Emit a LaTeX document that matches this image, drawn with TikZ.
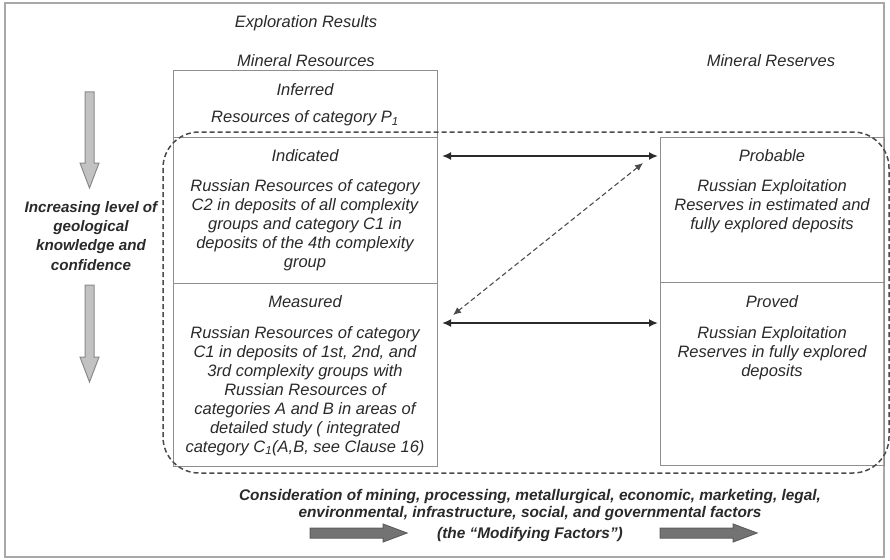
\documentclass[tikz,border=0pt]{standalone}
\usepackage{fontspec}
\setmainfont{Liberation Sans}
\usetikzlibrary{arrows.meta}
\definecolor{txt}{HTML}{2A2A2A}
\definecolor{boxc}{HTML}{8E8E8E}
\definecolor{framec}{HTML}{A8A8A8}
\definecolor{dashc}{HTML}{4A4A4A}
\definecolor{lightfill}{HTML}{C2C2C2}
\definecolor{lightdraw}{HTML}{8A8A8A}
\definecolor{darkfill}{HTML}{737373}
\definecolor{darkdraw}{HTML}{5E5E5E}
\begin{document}
\begin{tikzpicture}[x=1pt,y=-1pt,
  cell/.style={draw=boxc, line width=1.2pt, inner sep=0pt, anchor=north west},
  regtxt/.style={font=\fontsize{16.5}{19}\selectfont\itshape, text=txt, inner sep=0pt, align=center},
  boldtxt/.style={font=\fontsize{15.2}{19.3}\selectfont\bfseries\itshape, text=txt, inner sep=0pt, align=center},
  bottxt/.style={font=\fontsize{15.4}{17}\selectfont\bfseries\itshape, text=txt, inner sep=0pt, align=center},
  dblarrow/.style={{Latex[length=9pt,width=8pt]}-{Latex[length=9pt,width=8pt]}, line width=1.9pt, draw=txt},
  dasharrow/.style={{Latex[length=8pt,width=7pt]}-{Latex[length=8pt,width=7pt]}, line width=1.1pt, draw=dashc, dash pattern=on 5pt off 3pt},
  vgray/.style={fill=lightfill, draw=lightdraw, line width=1pt, line join=miter},
  hgray/.style={fill=darkfill, draw=darkdraw, line width=1pt, line join=miter}
]
\useasboundingbox (0,0) rectangle (890,559);
\fill[white] (0,0) rectangle (890,559);
% outer frame
\draw[framec, line width=2pt] (5,3) rectangle (884,557);

% boxes
\node[cell, minimum width=264pt, minimum height=67pt]  (inf)  at (173,70)  {};
\node[cell, minimum width=264pt, minimum height=146pt] (ind)  at (173,137) {};
\node[cell, minimum width=264pt, minimum height=183pt] (mea)  at (173,283) {};
\node[cell, minimum width=224pt, minimum height=145pt] (prob) at (660,137) {};
\node[cell, minimum width=224pt, minimum height=183pt] (prov) at (660,282) {};

% dashed rounded envelope
\draw[dashc, line width=1.5pt, dash pattern=on 5pt off 3pt, rounded corners=36pt] (163,132) rectangle (889,473);

% headings
\node[regtxt, anchor=base] (hexp) at (306,27.5) {Exploration Results};
\node[regtxt, anchor=base] (hres) at (306,66.5) {Mineral Resources};
\node[regtxt, anchor=base] (hrsv) at (771,66.5) {Mineral Reserves};

% Inferred
\node[regtxt, anchor=base] (infT) at (305,95.5) {Inferred};
\node[regtxt, anchor=base] (infB) at (305,122.5) {Resources of category P\textsubscript{1}};

% Indicated
\node[regtxt, anchor=base] (indT) at (305,161.5) {Indicated};
\node[regtxt, anchor=north] (indB) at (305,179) {Russian Resources of category\\C2 in deposits of all complexity\\groups and category C1 in\\deposits of the 4th complexity\\group};

% Measured
\node[regtxt, anchor=base] (meaT) at (305,307.5) {Measured};
\node[regtxt, anchor=north] (meaB) at (305,326) {Russian Resources of category\\C1 in deposits of 1st, 2nd, and\\3rd complexity groups with\\Russian Resources of\\categories A and B in areas of\\detailed study ( integrated\\category C\textsubscript{1}(A,B, see Clause 16)};

% Probable
\node[regtxt, anchor=base] (probT) at (772,161.5) {Probable};
\node[regtxt, anchor=north] (probB) at (772,179) {Russian Exploitation\\Reserves in estimated and\\fully explored deposits};

% Proved
\node[regtxt, anchor=base] (provT) at (772,307.5) {Proved};
\node[regtxt, anchor=north] (provB) at (772,326) {Russian Exploitation\\Reserves in fully explored\\deposits};

% left label
\node[boldtxt, anchor=north] (lbl) at (91,201) {Increasing level of\\geological\\knowledge and\\confidence};

% left vertical gray arrows
\draw[vgray] (85,92) -- (94,92) -- (94,163) -- (99,163) -- (89.5,188) -- (80,163) -- (85,163) -- cycle;
\draw[vgray] (85,285) -- (94,285) -- (94,357) -- (99,357) -- (89.5,382) -- (80,357) -- (85,357) -- cycle;

% bottom text
\node[bottxt, anchor=north] (bot) at (530,489) {Consideration of mining, processing, metallurgical, economic, marketing, legal,\\environmental, infrastructure, social, and governmental factors};
\node[bottxt, anchor=base] (botm) at (530,538.5) {(the “Modifying Factors”)};

% bottom horizontal gray arrows
\draw[hgray] (310,528) -- (383,528) -- (383,524) -- (407,533) -- (383,542) -- (383,538) -- (310,538) -- cycle;
\draw[hgray] (660,528) -- (733,528) -- (733,524) -- (757,533) -- (733,542) -- (733,538) -- (660,538) -- cycle;

% connectors
\coordinate (a1l) at (442,156);
\coordinate (a1r) at (658,156);
\coordinate (a2l) at (442,323);
\coordinate (a2r) at (658,323);
\coordinate (d1) at (643,163);
\coordinate (d2) at (453,315);
\draw[dblarrow] (a1l) -- (a1r);
\draw[dblarrow] (a2l) -- (a2r);
\draw[dasharrow] (d1) -- (d2);
\end{tikzpicture}
\end{document}
